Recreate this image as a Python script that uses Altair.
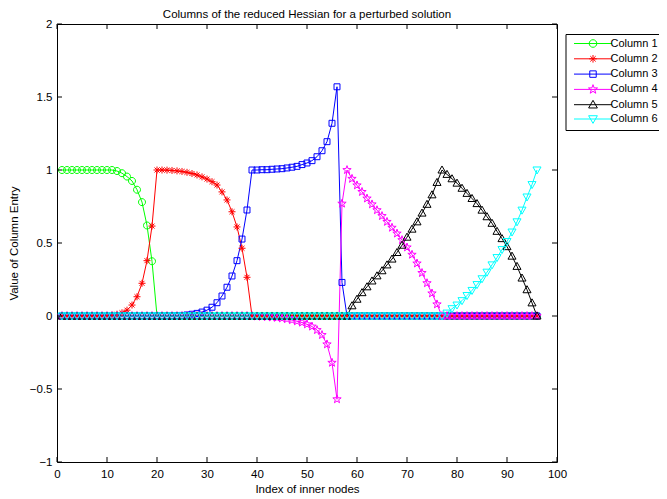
import math
import altair as alt
import pandas as pd

# ---------------- data ----------------
nodes = list(range(1, 97))
series_names = ["Column 1", "Column 2", "Column 3", "Column 4", "Column 5", "Column 6"]
colors = ["#00ff00", "#ff0000", "#0000ff", "#ff00ff", "#000000", "#00ffff"]

col1 = ([1.0] * 11
        + [0.993, 0.978, 0.955, 0.925, 0.865, 0.78, 0.62, 0.375]
        + [0.0] * 77)
col2 = ([0.0] * 9
        + [0.003, 0.006, 0.012, 0.022, 0.04, 0.075, 0.132, 0.224, 0.379, 0.616]
        + [1.0, 1.0, 0.999, 0.997, 0.994, 0.99, 0.984, 0.976, 0.966, 0.953,
           0.938, 0.92, 0.897, 0.85, 0.795, 0.714, 0.61, 0.464, 0.265]
        + [0.0] * 58)
col3 = ([0.0] * 22
        + [0.001, 0.002, 0.004, 0.007, 0.012, 0.018, 0.027, 0.04, 0.06, 0.091,
           0.137, 0.197, 0.274, 0.379, 0.527, 0.726]
        + [1.0, 1.0, 1.002, 1.002, 1.005, 1.007, 1.009, 1.014, 1.019, 1.025,
           1.037, 1.048, 1.064, 1.091, 1.132, 1.194, 1.32, 1.57]
        + [0.23]
        + [0.0] * 39)
col4 = ([0.0] * 39
        + [-0.003, -0.004, -0.006, -0.009, -0.012, -0.016, -0.021, -0.028, -0.036,
           -0.045, -0.057, -0.072, -0.096, -0.13, -0.194, -0.32, -0.57]
        + [0.77]
        + [1.0, 0.94, 0.895, 0.85, 0.805, 0.765, 0.725, 0.685, 0.645, 0.605,
           0.565, 0.52, 0.47, 0.42, 0.36, 0.295, 0.225, 0.155, 0.08]
        + [0.0] * 20)
col5 = ([0.0] * 58
        + [0.07, 0.115, 0.16, 0.2, 0.24, 0.275, 0.31, 0.35, 0.39, 0.435,
           0.485, 0.54, 0.595, 0.645, 0.705, 0.765, 0.83, 0.915, 1.0]
        + [0.97, 0.94, 0.91, 0.875, 0.84, 0.805, 0.77, 0.725, 0.68, 0.635,
           0.58, 0.53, 0.475, 0.41, 0.34, 0.26, 0.18, 0.09, 0.0])
col6 = ([0.0] * 77
        + [0.02, 0.05, 0.075, 0.105, 0.14, 0.175, 0.215, 0.255, 0.3, 0.35,
           0.4, 0.455, 0.51, 0.575, 0.645, 0.725, 0.815, 0.9, 1.0])

x_ticks = [0, 10, 20, 30, 40, 50, 60, 70, 80, 90, 100]
y_ticks = [-1, -0.5, 0, 0.5, 1, 1.5, 2]

title_text = "Columns of the reduced Hessian for a perturbed solution"
x_title = "Index of inner nodes"
y_title = "Value of Column Entry"

# ---------------- table ----------------
rows = []
for name, vals in zip(series_names, [col1, col2, col3, col4, col5, col6]):
    for n, v in zip(nodes, vals):
        rows.append({"node": n, "value": v, "series": name})
df = pd.DataFrame(rows)

# ---------------- marker shapes (unit paths, centred at (cx, 0)) ----------------
def star_path(r_out, r_in, cx=0.0):
    pts = []
    for k in range(10):
        ang = math.radians(-90 + 36 * k)
        r = r_out if k % 2 == 0 else r_in
        pts.append((cx + r * math.cos(ang), r * math.sin(ang)))
    return "M" + "L".join(f"{x:.3f},{y:.3f}" for x, y in pts) + "Z"

def circle_path(r, cx=0.0):
    return (f"M{cx + r:.3f},0A{r:.3f},{r:.3f},0,1,1,{cx - r:.3f},0"
            f"A{r:.3f},{r:.3f},0,1,1,{cx + r:.3f},0Z")

def asterisk_path(r, cx=0.0):
    d = r * 0.707
    return (f"M{cx - r:.3f},0L{cx + r:.3f},0M{cx:.3f},{-r:.3f}L{cx:.3f},{r:.3f}"
            f"M{cx - d:.3f},{-d:.3f}L{cx + d:.3f},{d:.3f}"
            f"M{cx - d:.3f},{d:.3f}L{cx + d:.3f},{-d:.3f}")

def square_path(r, cx=0.0):
    return (f"M{cx - r:.3f},{-r:.3f}L{cx + r:.3f},{-r:.3f}"
            f"L{cx + r:.3f},{r:.3f}L{cx - r:.3f},{r:.3f}Z")

def tri_up_path(r, cx=0.0):
    return f"M{cx:.3f},{-r:.3f}L{cx + r:.3f},{0.75 * r:.3f}L{cx - r:.3f},{0.75 * r:.3f}Z"

def tri_down_path(r, cx=0.0):
    return f"M{cx:.3f},{r:.3f}L{cx + r:.3f},{-0.75 * r:.3f}L{cx - r:.3f},{-0.75 * r:.3f}Z"

def markers(s, cx=0.0):
    return [circle_path(1.0 * s, cx), asterisk_path(1.0 * s, cx), square_path(0.85 * s, cx),
            star_path(1.25 * s, 0.5 * s, cx), tri_up_path(1.15 * s, cx),
            tri_down_path(1.15 * s, cx)]

plot_shapes = markers(1.0)
LEG_CX = 4.5
leg_line = "M-0.25,0L9.25,0"
legend_shapes = [leg_line + p for p in markers(0.95, LEG_CX)]

FONT = "Liberation Sans, Arial, Helvetica, sans-serif"
FS = 11.5
W, H = 500, 438

xscale = alt.Scale(domain=[0, 100], nice=False, zero=False)
yscale = alt.Scale(domain=[-1, 2], nice=False, zero=False)

x_axis = alt.Axis(values=x_ticks, format="d", title=x_title, ticks=False, tickSize=0,
                  domain=False, grid=False, labelPadding=6, labelFlush=False,
                  labelOverlap=False, labelBound=False,
                  labelFont=FONT, labelFontSize=FS, labelColor="black",
                  titleFont=FONT, titleFontSize=FS, titleFontWeight="normal",
                  titleColor="black", titleX=W / 2, titleY=27, titleBaseline="middle",
                  titleAlign="center")
y_axis = alt.Axis(values=y_ticks, format="~g", title=y_title, ticks=False, tickSize=0,
                  domain=False, grid=False, labelPadding=5, labelFlush=False,
                  labelOverlap=False, labelBound=False,
                  labelFont=FONT, labelFontSize=FS, labelColor="black",
                  titleFont=FONT, titleFontSize=FS, titleFontWeight="normal",
                  titleColor="black", titleX=-43, titleY=H / 2, titleBaseline="middle",
                  titleAlign="center", titleAngle=270)

X_ENC = dict(scale=xscale, axis=x_axis)
Y_ENC = dict(scale=yscale, axis=y_axis)

color_plain = alt.Color("series:N", scale=alt.Scale(domain=series_names, range=colors),
                        legend=None)

lines = alt.Chart(df).mark_line(strokeWidth=1).encode(
    x=alt.X("node:Q", **X_ENC),
    y=alt.Y("value:Q", **Y_ENC),
    color=color_plain,
    detail="series:N",
    order="node:Q",
)

points = alt.Chart(df).mark_point(filled=False, strokeWidth=1, size=49, opacity=1).encode(
    x=alt.X("node:Q", **X_ENC),
    y=alt.Y("value:Q", **Y_ENC),
    color=color_plain,
    shape=alt.Shape("series:N", scale=alt.Scale(domain=series_names, range=plot_shapes),
                    legend=None),
)

leg = dict(title=None, orient="none", legendX=508.5, legendY=10,
           strokeColor="black", fillColor="white", padding=4,
           labelFont=FONT, labelFontSize=11, labelColor="black",
           labelOffset=30, rowPadding=2.3, symbolStrokeWidth=1, symbolSize=64)

legend_layer = alt.Chart(df).transform_filter("false").mark_point(
    filled=False, strokeWidth=1, size=64, opacity=1).encode(
    x=alt.X("node:Q", **X_ENC),
    y=alt.Y("value:Q", **Y_ENC),
    color=alt.Color("series:N", scale=alt.Scale(domain=series_names, range=colors),
                    legend=alt.Legend(**leg)),
    shape=alt.Shape("series:N", scale=alt.Scale(domain=series_names, range=legend_shapes),
                    legend=alt.Legend(**leg)),
)

xt = pd.DataFrame({"t": x_ticks})
yt = pd.DataFrame({"t": y_ticks})
tick_len = 5
bottom_ticks = alt.Chart(xt).mark_rule(color="black", strokeWidth=1).encode(
    x=alt.X("t:Q", **X_ENC), y=alt.value(H), y2=alt.value(H - tick_len))
top_ticks = alt.Chart(xt).mark_rule(color="black", strokeWidth=1).encode(
    x=alt.X("t:Q", **X_ENC), y=alt.value(0), y2=alt.value(tick_len))
left_ticks = alt.Chart(yt).mark_rule(color="black", strokeWidth=1).encode(
    y=alt.Y("t:Q", **Y_ENC), x=alt.value(0), x2=alt.value(tick_len))
right_ticks = alt.Chart(yt).mark_rule(color="black", strokeWidth=1).encode(
    y=alt.Y("t:Q", **Y_ENC), x=alt.value(W), x2=alt.value(W - tick_len))

chart = alt.layer(
    lines, points, bottom_ticks, top_ticks, left_ticks, right_ticks, legend_layer
).resolve_scale(
    color="independent", shape="independent"
).properties(
    width=W, height=H,
    autosize=alt.AutoSizeParams(type="none"),
    padding={"left": 49, "top": 16, "right": 102, "bottom": 37},
    background="white",
    title=alt.TitleParams(title_text, font=FONT, fontSize=FS, fontWeight="normal",
                          color="black", anchor="middle", frame="group", offset=0, dy=2),
).configure_view(stroke="black", strokeWidth=1)

chart.save("out.html", embed_options={"renderer": "svg", "actions": False})
